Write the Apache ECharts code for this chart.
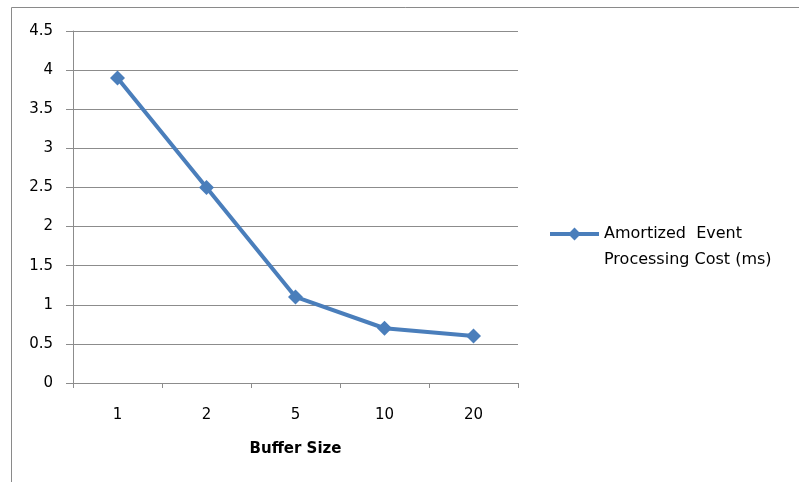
<!DOCTYPE html>
<html>
<head>
<meta charset="utf-8">
<script src="https://cdn.jsdelivr.net/npm/echarts@6/dist/echarts.min.js"></script>
<style>
  html, body { margin: 0; padding: 0; background: #ffffff; }
  #chart { width: 799px; height: 482px; }
</style>
</head>
<body>
<div id="chart"></div>
<script>
// Buffer sizes on the category axis
var bufferSizes = ['1', '2', '5', '10', '20'];
// Amortized cost per event, in milliseconds
var costValues = [3.9, 2.5, 1.1, 0.7, 0.6];
var seriesName = 'Amortized  Event\nProcessing Cost (ms)';

var chart = echarts.init(document.getElementById('chart'));
var gridColor = '#8c8c8c';
var lineColor = '#4a7ebb';
var textFont = 'DejaVu Sans';

chart.setOption({
  animation: false,
  backgroundColor: '#ffffff',
  graphic: [{
    type: 'rect',
    shape: { x: 11.5, y: 7.5, width: 820, height: 500 },
    style: { fill: 'none', stroke: '#8a8a8a', lineWidth: 1 },
    silent: true
  }],
  grid: { left: 73, right: 281, top: 31, bottom: 99, containLabel: false },
  xAxis: {
    type: 'category',
    data: bufferSizes,
    boundaryGap: true,
    name: 'Buffer Size',
    nameLocation: 'middle',
    nameGap: 59,
    nameTextStyle: { fontFamily: textFont, fontWeight: 'bold', fontSize: 15, color: '#000' },
    axisLine: { lineStyle: { color: gridColor, width: 1 } },
    axisTick: { show: true, alignWithLabel: false, length: 5, inside: false, lineStyle: { color: gridColor } },
    axisLabel: { margin: 25, fontFamily: textFont, fontSize: 15, color: '#000' },
    splitLine: { show: false }
  },
  yAxis: {
    type: 'value',
    min: 0,
    max: 4.5,
    interval: 0.5,
    axisLine: { show: true, lineStyle: { color: gridColor, width: 1 } },
    axisTick: { show: true, length: 7, lineStyle: { color: gridColor } },
    axisLabel: { margin: 20, fontFamily: textFont, fontSize: 15, color: '#000' },
    splitLine: { show: true, lineStyle: { color: gridColor, width: 1 } }
  },
  legend: {
    show: true,
    left: 543,
    top: 190,
    orient: 'vertical',
    itemWidth: 49,
    itemHeight: 16,
    itemGap: 0,
    lineStyle: { width: 4, color: lineColor },
    // a blank leading line keeps the marker level with the first text line
    formatter: function (name) { return ' \n' + name; },
    textStyle: {
      fontFamily: textFont,
      fontSize: 16,
      color: '#000',
      lineHeight: 26
    },
    data: [seriesName]
  },
  series: [{
    name: seriesName,
    type: 'line',
    data: costValues,
    symbol: 'diamond',
    symbolSize: 15,
    showSymbol: true,
    lineStyle: { color: lineColor, width: 4 },
    itemStyle: { color: lineColor },
    emphasis: { disabled: true }
  }]
});
</script>
</body>
</html>
